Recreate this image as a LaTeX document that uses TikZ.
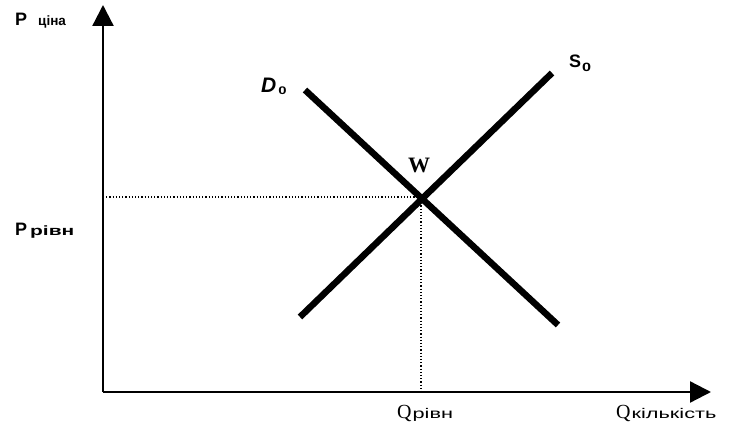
\documentclass[tikz,border=0pt]{standalone}
\usepackage{fontspec}
\setmainfont{Liberation Sans}
\newfontfamily\serifq{Liberation Serif}
\newfontfamily\widesans[FakeStretch=1.55]{Liberation Sans}
\newfontfamily\midsans[FakeStretch=1.35]{Liberation Sans}
\usetikzlibrary{arrows.meta}
\begin{document}
\begin{tikzpicture}[x=1pt,y=-1pt,
  axis/.style={line width=2.3pt,-{Triangle[length=21pt,width=21pt]}},
  curve/.style={line width=6.5pt},
  guide/.style={line width=1.2pt,dotted},
  lbl/.style={inner sep=0pt,anchor=base west}]
\useasboundingbox (0,0) rectangle (741,443);
\coordinate (O) at (103,392);
\coordinate (Ytip) at (103,5);
\coordinate (Xtip) at (711,392);
\draw[axis] (O) -- (Ytip);
\draw[axis] (O) -- (Xtip);
\coordinate (D1) at (305,90);
\coordinate (D2) at (558,325);
\coordinate (S1) at (300,317);
\coordinate (S2) at (552,73);
\draw[curve] (D1) -- (D2);
\draw[curve] (S1) -- (S2);
\coordinate (E) at (421,197);
\coordinate (Ey) at (103,197);
\coordinate (Ex) at (421,392);
\draw[guide] (Ey) -- (E) -- (Ex);
\node[lbl] (pc) at (15,26) {\fontsize{18}{18}\selectfont\bfseries P\hspace{11pt}\fontsize{13.5}{13.5}\selectfont ціна};
\node[lbl] (pr) at (15,236) {\fontsize{18}{18}\selectfont\bfseries P\hspace{3pt}\widesans\fontsize{13.5}{13.5}\selectfont\bfseries рівн};
\node[lbl] (dl) at (261,93) {\fontsize{21}{21}\selectfont\bfseries\itshape D\hspace{2pt}\raisebox{-2pt}{\midsans\fontsize{11}{11}\selectfont\bfseries\upshape 0}};
\node[lbl] (sl) at (569,68) {\fontsize{18}{18}\selectfont\bfseries S\hspace{1pt}\raisebox{-4pt}{\midsans\fontsize{12}{12}\selectfont\bfseries\upshape 0}};
\node[lbl] (w) at (408,173) {\serifq\fontsize{22}{22}\selectfont\bfseries W};
\node[lbl] (qr) at (397,418) {\serifq\fontsize{20}{20}\selectfont Q\hspace{1pt}\widesans\fontsize{14}{14}\selectfont рівн};
\node[lbl] (qk) at (616,418) {\serifq\fontsize{20}{20}\selectfont Q\hspace{1pt}\widesans\fontsize{14}{14}\selectfont кількість};
\end{tikzpicture}
\end{document}
